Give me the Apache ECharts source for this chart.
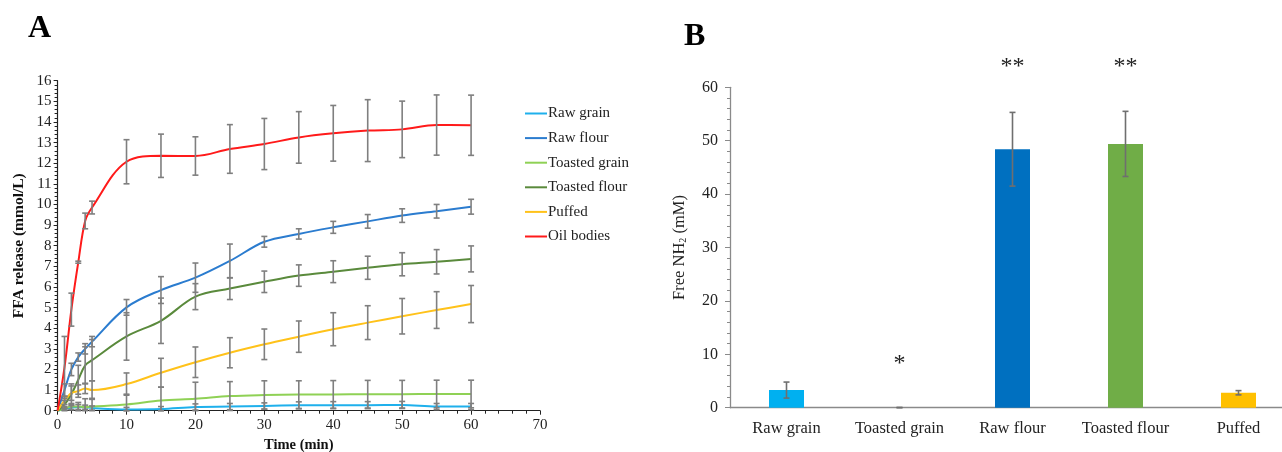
<!DOCTYPE html>
<html><head><meta charset="utf-8">
<script src="https://cdn.jsdelivr.net/npm/echarts@6/dist/echarts.min.js"></script>
<style>html,body{margin:0;padding:0;background:#fff}#c{width:1282px;height:452px}</style>
</head><body><div id="c"></div>
<script>
// ---- Panel A data ----
const timeMin = [0,1,2,3,4,5,10,15,20,25,30,35,40,45,50,55,60];
const seriesNamesA = ['Raw grain','Raw flour','Toasted grain','Toasted flour','Puffed','Oil bodies'];
const rawGrain      = [0,0.08,0.15,0.18,0.17,0.13,0.06,0.08,0.18,0.2,0.23,0.26,0.27,0.27,0.28,0.2,0.2];
const rawGrainErr   = [0,0.05,0.1,0.12,0.1,0.1,0.1,0.12,0.15,0.15,0.15,0.17,0.17,0.17,0.17,0.15,0.15];
const rawFlour      = [0,1.0,2.0,2.6,3.0,3.35,5.01,5.85,6.45,7.26,8.19,8.57,8.89,9.18,9.46,9.67,9.89];
const rawFlourErr   = [0,0.3,0.3,0.2,0.25,0.25,0.38,0.65,0.71,0.82,0.26,0.25,0.29,0.33,0.33,0.33,0.36];
const toastedGrain  = [0,0.1,0.2,0.2,0.18,0.2,0.3,0.49,0.58,0.71,0.76,0.78,0.79,0.8,0.8,0.81,0.81];
const toastedGrainErr=[0,0.1,0.15,0.2,0.4,0.4,0.5,0.65,0.8,0.7,0.69,0.67,0.67,0.67,0.67,0.67,0.67];
const toastedFlour  = [0,0.3,0.8,1.5,2.2,2.45,3.6,4.36,5.53,5.92,6.25,6.55,6.74,6.93,7.1,7.22,7.36];
const toastedFlourErr=[0,0.2,0.5,0.7,0.9,1.0,1.15,1.1,0.63,0.53,0.52,0.52,0.53,0.56,0.56,0.59,0.63];
const puffed        = [0,0.5,0.85,0.95,1.08,1.0,1.29,1.84,2.35,2.81,3.22,3.59,3.95,4.27,4.58,4.88,5.17];
const puffedErr     = [0,0.2,0.35,0.3,0.25,0.45,0.54,0.7,0.74,0.73,0.74,0.76,0.8,0.82,0.86,0.89,0.9];
const oilBodies     = [0,2.1,4.9,7.2,9.2,9.85,12.07,12.36,12.35,12.69,12.93,13.25,13.45,13.58,13.64,13.85,13.84];
const oilBodiesErr  = [0,1.5,0.8,0.05,0.38,0.31,1.07,1.05,0.93,1.18,1.24,1.25,1.35,1.5,1.37,1.46,1.46];
const colorsA = ['#1fb0ec','#2b7ccf','#8fd155','#5a8a3c','#ffc21a','#ff1a1a'];

// ---- Panel B data ----
const categoriesB = ['Raw grain','Toasted grain','Raw flour','Toasted flour','Puffed'];
const freeNH2     = [3.3, 0, 48.4, 49.4, 2.8];
const freeNH2Err  = [1.5, 0.05, 6.9, 6.1, 0.4];
const sigMarks    = ['', '*', '**', '**', ''];
const colorsB = ['#00b0f0','#a0a0a0','#0070c0','#70ad47','#ffc000'];

const FONT = '"Liberation Serif","Times New Roman",serif';
const valsA = [rawGrain,rawFlour,toastedGrain,toastedFlour,puffed,oilBodies];
const errsA = [rawGrainErr,rawFlourErr,toastedGrainErr,toastedFlourErr,puffedErr,oilBodiesErr];

function makeErrRender(color){
  return function(params, api){
    const x = api.value(0), y = api.value(1), e = api.value(2);
    if (!e) return null;
    const top = api.coord([x, y + e]);
    const bot = api.coord([x, Math.max(0, y - e)]);
    const w = 3;
    const st = {stroke:color, lineWidth:1.6};
    return {type:'group', children:[
      {type:'line', shape:{x1:top[0],y1:top[1],x2:bot[0],y2:bot[1]}, style:st},
      {type:'line', shape:{x1:top[0]-w,y1:top[1],x2:top[0]+w,y2:top[1]}, style:st},
      {type:'line', shape:{x1:bot[0]-w,y1:bot[1],x2:bot[0]+w,y2:bot[1]}, style:st}
    ]};
  };
}

const series = [];
valsA.forEach((v,i)=>{
  series.push({name:seriesNamesA[i], type:'line', xAxisIndex:0, yAxisIndex:0,
    data: timeMin.map((t,k)=>[t,v[k]]), smooth:0.35, showSymbol:false, symbol:'none',
    lineStyle:{color:colorsA[i], width:2}, itemStyle:{color:colorsA[i]}, z:3});
  series.push({type:'custom', xAxisIndex:0, yAxisIndex:0, renderItem:makeErrRender('#7f7f7f'),
    data: timeMin.map((t,k)=>[t,v[k],errsA[i][k]]), z:4, silent:true});
});

series.push({type:'bar', xAxisIndex:1, yAxisIndex:1, barWidth:35,
  data: freeNH2.map((v,i)=>({value:v, itemStyle:{color:colorsB[i]},
    label:{show: !!sigMarks[i], position:'top', formatter: sigMarks[i],
      distance: [0,32,71,65,0][i], fontSize:24, fontFamily:FONT, color:'#222'}})),
  z:2});
series.push({type:'custom', xAxisIndex:1, yAxisIndex:1, renderItem:makeErrRender('#6f6f6f'),
  data: categoriesB.map((c,i)=>[i, freeNH2[i], freeNH2Err[i]]), z:5, silent:true});

const chart = echarts.init(document.getElementById('c'), null, {renderer:'canvas'});
chart.setOption({
  animation:false,
  backgroundColor:'#fff',
  textStyle:{fontFamily:FONT},
  graphic:[
    {type:'text', left:28, top:13, style:{text:'A', font:'bold 32px '+FONT, fill:'#000'}},
    {type:'text', left:684, top:21, style:{text:'B', font:'bold 32px '+FONT, fill:'#000'}}
  ],
  legend:{data:seriesNamesA, orient:'vertical', left:520, top:101, icon:'rect',
    itemWidth:22, itemHeight:2, itemGap:9.6,
    textStyle:{fontFamily:FONT, fontSize:15, color:'#222', padding:[0,0,0,-4]}},
  grid:[
    {left:57.6, top:80.7, width:482.4, height:330, outerBoundsMode:'none', containLabel:false},
    {left:730, top:87.3, width:565, height:320.4, outerBoundsMode:'none', containLabel:false}
  ],
  xAxis:[
    {type:'value', gridIndex:0, min:0, max:70, interval:10,
     name:'Time (min)', nameLocation:'middle', nameGap:27,
     nameTextStyle:{fontFamily:FONT, fontWeight:'bold', fontSize:14.5, color:'#111'},
     axisLine:{lineStyle:{color:'#222', width:1.2}},
     axisTick:{show:true, length:4, lineStyle:{color:'#222'}},
     minorTick:{show:true, splitNumber:5, length:3, lineStyle:{color:'#222'}},
     axisLabel:{fontFamily:FONT, fontSize:15, color:'#222', margin:7},
     splitLine:{show:false}},
    {type:'category', gridIndex:1, data:categoriesB,
     axisLine:{lineStyle:{color:'#8a8a8a', width:1.3}},
     axisTick:{show:false},
     axisLabel:{interval:0, fontFamily:FONT, fontSize:16.5, color:'#222', margin:12}}
  ],
  yAxis:[
    {type:'value', gridIndex:0, min:0, max:16, interval:1,
     name:'FFA release (mmol/L)', nameLocation:'middle', nameGap:31,
     nameTextStyle:{fontFamily:FONT, fontWeight:'bold', fontSize:15.5, color:'#111'},
     axisLine:{show:true, lineStyle:{color:'#222', width:1.2}},
     axisTick:{show:true, length:4, lineStyle:{color:'#222'}},
     minorTick:{show:true, splitNumber:5, length:3, lineStyle:{color:'#222'}},
     axisLabel:{fontFamily:FONT, fontSize:15, color:'#222', margin:6},
     splitLine:{show:false}},
    {type:'value', gridIndex:1, min:0, max:60, interval:10,
     name:'Free NH{sub|2} (mM)', nameLocation:'middle', nameGap:42,
     nameTextStyle:{fontFamily:FONT, fontSize:16.5, color:'#222',
       rich:{sub:{fontFamily:FONT, fontSize:10, color:'#222', verticalAlign:'bottom', padding:[7,0,0,0]}}},
     axisLine:{show:true, lineStyle:{color:'#8a8a8a', width:1.3}},
     axisTick:{show:true, length:5, lineStyle:{color:'#8a8a8a'}},
     minorTick:{show:true, splitNumber:5, length:3, lineStyle:{color:'#8a8a8a'}},
     axisLabel:{fontFamily:FONT, fontSize:16, color:'#222', margin:12},
     splitLine:{show:false}}
  ],
  series: series
});
</script></body></html>
